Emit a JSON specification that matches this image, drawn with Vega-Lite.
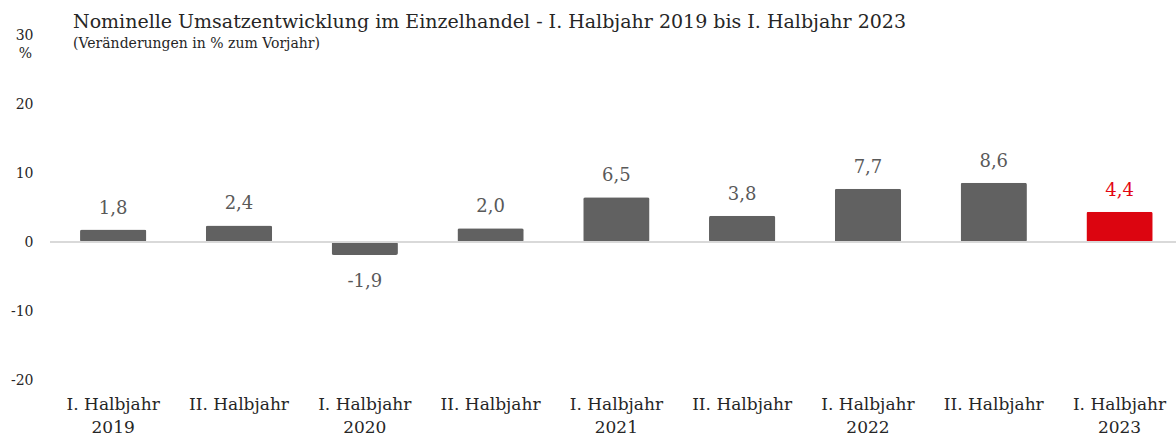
{
  "$schema": "https://vega.github.io/schema/vega-lite/v6.json",
  "autosize": {"type": "none"},
  "padding": {"left": 50, "top": 35, "right": 0, "bottom": 59},
  "width": 1126,
  "height": 345,
  "background": "white",
  "config": {
    "locale": {"number": {"decimal": ",", "thousands": ".", "grouping": [3], "currency": ["", " €"], "minus": "-"}},
    "view": {"stroke": null},
    "font": "DejaVu Serif"
  },
  "title": {
    "text": "Nominelle Umsatzentwicklung im Einzelhandel - I. Halbjahr 2019 bis I. Halbjahr 2023",
    "subtitle": "(Veränderungen  in % zum Vorjahr)",
    "anchor": "start",
    "frame": "group",
    "dx": 23,
    "offset": -23,
    "font": "DejaVu Serif",
    "fontSize": 19,
    "fontWeight": "normal",
    "color": "#262626",
    "subtitleFont": "DejaVu Serif",
    "subtitleFontSize": 14,
    "subtitleColor": "#262626",
    "subtitlePadding": 5
  },
  "data": {
    "values": [
      {"period": "I. Halbjahr 2019", "value": 1.8, "current": "no"},
      {"period": "II. Halbjahr 2019", "value": 2.4, "current": "no"},
      {"period": "I. Halbjahr 2020", "value": -1.9, "current": "no"},
      {"period": "II. Halbjahr 2020", "value": 2.0, "current": "no"},
      {"period": "I. Halbjahr 2021", "value": 6.5, "current": "no"},
      {"period": "II. Halbjahr 2021", "value": 3.8, "current": "no"},
      {"period": "I. Halbjahr 2022", "value": 7.7, "current": "no"},
      {"period": "II. Halbjahr 2022", "value": 8.6, "current": "no"},
      {"period": "I. Halbjahr 2023", "value": 4.4, "current": "yes"}
    ]
  },
  "encoding": {
    "x": {
      "field": "period",
      "type": "nominal",
      "sort": null,
      "scale": {"paddingInner": 0.473, "paddingOuter": 0.212, "align": 0.563},
      "axis": {
        "title": null,
        "domain": false,
        "ticks": false,
        "labelAngle": 0,
        "labelFontSize": 17,
        "labelColor": "#262626",
        "labelPadding": 16,
        "labelLineHeight": 23,
        "labelExpr": "indexof(datum.label, 'II.') == 0 ? ['II. Halbjahr', ''] : ['I. Halbjahr', slice(datum.label, -4)]"
      }
    }
  },
  "layer": [
    {
      "mark": {"type": "bar", "cornerRadius": 2},
      "encoding": {
        "y": {
          "field": "value",
          "type": "quantitative",
          "scale": {"domain": [-20, 30], "nice": false},
          "axis": {
            "values": [-20, -10, 0, 10, 20, 30],
            "title": "%",
            "titleAngle": 0,
            "titleX": -25,
            "titleY": 18,
            "titleAlign": "center",
            "titleBaseline": "middle",
            "titleFontSize": 14,
            "titleFontWeight": "normal",
            "titleColor": "#262626",
            "domain": false,
            "ticks": false,
            "grid": false,
            "labelFontSize": 14,
            "labelColor": "#262626",
            "labelPadding": 17,
            "format": "d"
          }
        },
        "color": {
          "field": "current",
          "type": "nominal",
          "scale": {"domain": ["no", "yes"], "range": ["#616161", "#dc0510"]},
          "legend": null
        }
      }
    },
    {
      "mark": {"type": "rule", "color": "#d9d9d9", "strokeWidth": 1.5},
      "encoding": {"y": {"datum": 0, "type": "quantitative"}, "x": {"value": 0}, "x2": {"value": 1126}}
    },
    {
      "transform": [{"filter": "datum.value >= 0"}],
      "mark": {"type": "text", "baseline": "alphabetic", "dy": -16, "fontSize": 18},
      "encoding": {
        "y": {"field": "value", "type": "quantitative"},
        "text": {"field": "value", "type": "quantitative", "format": ".1f"},
        "color": {
          "field": "current",
          "type": "nominal",
          "scale": {"domain": ["no", "yes"], "range": ["#595959", "#e30613"]},
          "legend": null
        }
      }
    },
    {
      "transform": [{"filter": "datum.value < 0"}],
      "mark": {"type": "text", "baseline": "top", "dy": 18, "fontSize": 18, "color": "#595959"},
      "encoding": {
        "y": {"field": "value", "type": "quantitative"},
        "text": {"field": "value", "type": "quantitative", "format": ".1f"}
      }
    }
  ],
  "resolve": {"scale": {"color": "independent"}}
}
